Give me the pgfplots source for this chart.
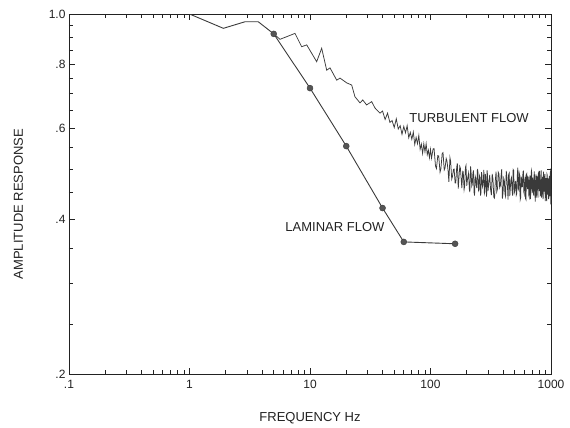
\documentclass[border=0pt]{standalone}
\usepackage{pgfplots}
\pgfplotsset{compat=1.18}
\usepackage{fontspec}
\setmainfont{Liberation Sans}
\definecolor{ink}{HTML}{3A3A3A}
\definecolor{axisink}{HTML}{222222}
\definecolor{dotfill}{HTML}{555555}
\begin{document}
\begin{tikzpicture}
\useasboundingbox (-69pt,-54pt) rectangle (501pt,374pt);
\begin{axis}[
  at={(0pt,0pt)}, anchor=south west,
  scale only axis, width=482pt, height=360pt,
  xmode=log, ymode=log,
  xmin=0.1, xmax=1000, ymin=0.2, ymax=1.0,
  xtick={0.1,1,10,100,1000},
  xticklabels={.1,1,10,100,1000},
  ytick={0.2,0.4,0.6,0.8,1.0},
  yticklabels={.2,.4,.6,.8,1.0},
  minor ytick={0.25,0.3,0.35,0.45,0.5,0.55,0.65,0.7,0.75,0.85,0.9,0.95},
  tick align=inside,
  major tick length=6pt, minor tick length=4pt,
  tick style={axisink, line width=0.7pt},
  axis line style={axisink, line width=0.9pt},
  ticklabel style={font=\fontsize{12}{14}\selectfont, text=axisink},
  xticklabel style={yshift=-3pt},
  label style={font=\fontsize{13}{15}\selectfont, text=axisink},
  xlabel={FREQUENCY Hz},
  ylabel={AMPLITUDE RESPONSE},
  xlabel style={at={(axis description cs:0.5,-0.1222)}, anchor=center},
  ylabel style={at={(axis description cs:-0.105,0.472)}, anchor=center},
  clip=true,
]
% laminar flow line
\addplot[ink, line width=0.9pt] coordinates {
 (1,1.0) (1.91,0.938) (2.89,0.966) (3.72,0.966) (5,0.915) (10,0.718)
 (20,0.554) (40,0.42) (60,0.361) (160,0.358)
};
\addplot[only marks, mark=*, mark size=3pt, mark options={fill=dotfill, draw=ink, line width=0.4pt}] coordinates {
 (5,0.915) (10,0.718) (20,0.554) (40,0.42) (60,0.361) (160,0.358)
};
% turbulent flow line
\addplot[ink, line width=0.75pt] coordinates {
 (5,0.915) (5.64,0.893) (7.51,0.917) (8.53,0.864) (9.39,0.871) (11.36,0.808)
 (12.5,0.858) (13.76,0.778) (14.66,0.786) (16.66,0.744) (17.74,0.751)
 (20.17,0.735) (22.18,0.728) (23.6,0.691) (26.0,0.672) (27.4,0.681)
 (29.5,0.666) (32.5,0.676) (34.6,0.657) (38.1,0.642)
 (40,0.648) (42,0.624) (44,0.642) (46,0.616) (48,0.621) (50,0.602)
 (52,0.626) (54,0.598) (56,0.607) (58,0.584) (60,0.605) (62,0.588)
 (64,0.607) (66,0.575) (68,0.589) (70,0.571) (72,0.590) (74,0.558)
 (76,0.576) (78,0.560) (80,0.581) (82,0.546) (84,0.559) (86,0.536)
 (88,0.560) (90,0.540) (92,0.560) (94,0.533) (96,0.544) (98,0.526)
 (100,0.546) (102,0.525)
 (105,0.547) (107,0.548) (110,0.507) (112,0.501) (115,0.531) (117,0.530)
 (120,0.493) (122,0.501) (125,0.536) (127,0.538) (130,0.498) (132,0.502)
 (135,0.524) (137,0.518) (140,0.496) (142,0.472) (145,0.526) (147,0.517)
 (150,0.478) (152,0.483) (155,0.499) (157,0.500) (160,0.470) (162,0.470)
 (165,0.504) (167,0.513) (170,0.458) (172,0.479) (175,0.506) (177,0.502)
 (180,0.476) (182,0.459) (185,0.495) (187,0.494) (190,0.456) (192,0.463)
 (195,0.504) (197,0.508) (200,0.464) (202,0.475) (205,0.485) (207,0.491)
 (210,0.457) (212,0.451) (215,0.506) (217,0.495) (220,0.463) (222,0.466)
 (225,0.491) (227,0.497) (230,0.450) (232,0.444) (235,0.484) (237,0.480)
 (240,0.465) (242,0.459) (245,0.499) (247,0.498) (250,0.454) (252,0.456)
 (255,0.485) (257,0.482) (260,0.444) (262,0.449) (265,0.493) (267,0.487)
 (270,0.462) (272,0.465) (275,0.477) (277,0.498) (280,0.448) (282,0.451)
 (285,0.489) (287,0.483) (290,0.457) (292,0.442) (295,0.497) (297,0.488)
 (300,0.453)
 (310,0.487) (315,0.457) (320,0.445) (325,0.489) (330,0.478) (335,0.441)
 (340,0.439) (345,0.475) (350,0.494) (355,0.452) (360,0.458) (365,0.493)
 (370,0.489) (375,0.460) (380,0.464) (385,0.484) (390,0.500) (395,0.438)
 (400,0.450) (405,0.480) (410,0.475) (415,0.447) (420,0.442) (425,0.496)
 (430,0.484) (435,0.464) (440,0.436) (445,0.488) (450,0.491) (455,0.443)
 (460,0.461) (465,0.477) (470,0.481) (475,0.455) (480,0.444) (485,0.499)
 (490,0.497) (495,0.449) (500,0.453) (505,0.472) (510,0.473) (515,0.445)
 (520,0.448) (525,0.485) (530,0.503) (535,0.459) (540,0.456) (545,0.491)
 (550,0.486) (555,0.436) (560,0.440) (565,0.482) (570,0.480) (575,0.462)
 (580,0.462) (585,0.494) (590,0.495) (595,0.451) (600,0.447) (605,0.476)
 (610,0.481) (615,0.438) (620,0.436) (625,0.488) (630,0.490) (635,0.463)
 (640,0.457) (645,0.484) (650,0.475) (655,0.444) (660,0.441) (665,0.479)
 (670,0.486) (675,0.437) (680,0.452) (685,0.493) (690,0.497) (695,0.459)
 (700,0.449) (705,0.481) (710,0.472) (715,0.448) (720,0.444) (725,0.495)
 (730,0.483) (735,0.456) (740,0.432) (745,0.472) (750,0.488) (755,0.440)
 (760,0.458) (765,0.485) (770,0.480) (775,0.452) (780,0.440) (785,0.490)
 (790,0.492) (795,0.461) (800,0.453) (805,0.496) (810,0.468) (815,0.444)
 (820,0.445) (825,0.475) (830,0.497) (835,0.440) (840,0.453) (845,0.472)
 (850,0.483) (855,0.449) (860,0.437) (865,0.494) (870,0.475) (875,0.452)
 (880,0.459) (885,0.485) (890,0.489) (895,0.433) (900,0.444) (905,0.469)
 (910,0.480) (915,0.456) (920,0.433) (925,0.489) (930,0.487) (935,0.446)
 (940,0.454) (945,0.480) (950,0.472) (955,0.437) (960,0.440) (965,0.476)
 (970,0.485) (975,0.443) (980,0.448) (985,0.491) (990,0.494) (995,0.428)
 (1000,0.427)
};
\node[font=\fontsize{13}{15}\selectfont, text=axisink] at (axis cs:209,0.628) {TURBULENT FLOW};
\node[font=\fontsize{13}{15}\selectfont, text=axisink] at (axis cs:16.1,0.386) {LAMINAR FLOW};
\end{axis}
\end{tikzpicture}
\end{document}
